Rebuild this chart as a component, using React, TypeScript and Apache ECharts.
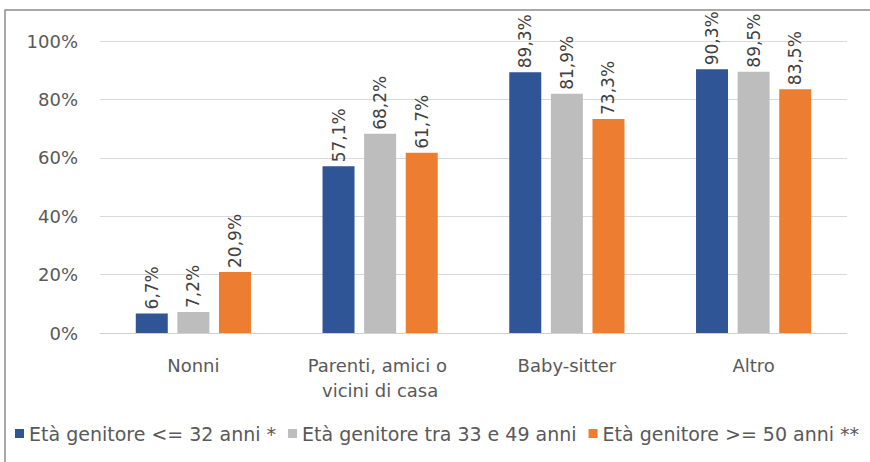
import React, { useEffect, useRef } from "react";
import * as echarts from "echarts";

const categories = ["Nonni", "Parenti, amici o vicini di casa", "Baby-sitter", "Altro"];
const seriesNames = [
  "Età genitore <= 32 anni *",
  "Età genitore tra 33 e 49 anni",
  "Età genitore >= 50 anni **",
];
const young = [6.7, 57.1, 89.3, 90.3];
const middle = [7.2, 68.2, 81.9, 89.5];
const older = [20.9, 61.7, 73.3, 83.5];
const colors = ["#2F5597", "#BDBDBD", "#ED7D31"];

const FONT = "DejaVu Sans";

export default function App() {
  const ref = useRef<HTMLDivElement>(null);
  useEffect(() => {
    document.body.style.margin = "0";
    const chart = echarts.init(ref.current!, null, { renderer: "svg" });
    const mk = (name: string, data: number[], color: string) => ({
      name,
      type: "bar",
      data,
      barWidth: 32,
      barGap: "30%",
      itemStyle: { color },
      label: {
        show: true,
        position: "top",
        rotate: 90,
        align: "left",
        verticalAlign: "middle",
        distance: 4,
        color: "#404040",
        fontSize: 17,
        fontFamily: FONT,
        formatter: (p: any) => p.value.toFixed(1).replace(".", ",") + "%",
      },
    });
    chart.setOption({
      animation: false,
      textStyle: { fontFamily: FONT },
      graphic: [
        {
          type: "rect",
          shape: { x: 5, y: 10, width: 900, height: 500 },
          style: { fill: "none", stroke: "#8c8c8c", lineWidth: 1.5 },
          silent: true,
        },
      ],
      grid: { left: 100, right: 23, top: 41, bottom: 129, containLabel: false },
      legend: {
        left: 10,
        top: 419,
        itemWidth: 9,
        itemHeight: 9,
        itemGap: 12,
        icon: "rect",
        textStyle: { color: "#595959", fontSize: 19, fontFamily: FONT },
        data: seriesNames,
      },
      xAxis: {
        type: "category",
        data: categories,
        axisLine: { lineStyle: { color: "#d0d0d0", width: 1 } },
        axisTick: { show: false },
        axisLabel: {
          color: "#595959",
          fontSize: 18,
          fontFamily: FONT,
          margin: 20,
          lineHeight: 25,
          interval: 0,
          width: 175,
          overflow: "break",
        },
      },
      yAxis: {
        type: "value",
        min: 0,
        max: 100,
        interval: 20,
        axisLine: { show: false },
        axisTick: { show: false },
        splitLine: { lineStyle: { color: "#d9d9d9" } },
        axisLabel: {
          formatter: "{value}%",
          color: "#595959",
          fontSize: 18,
          fontFamily: FONT,
          margin: 22,
        },
      },
      series: [
        mk(seriesNames[0], young, colors[0]),
        mk(seriesNames[1], middle, colors[1]),
        mk(seriesNames[2], older, colors[2]),
      ],
    });
    return () => chart.dispose();
  }, []);
  return <div ref={ref} style={{ width: 870, height: 462 }} />;
}
